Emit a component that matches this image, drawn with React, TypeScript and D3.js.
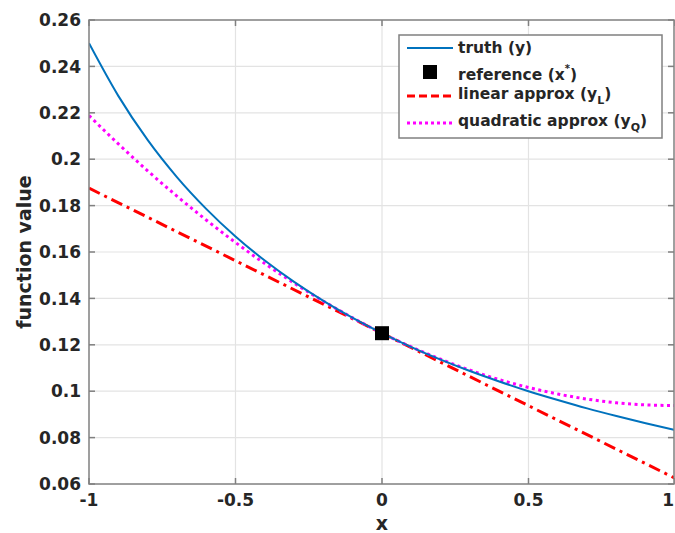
import { useMemo } from "react";
import { scaleLinear, line, curveMonotoneX } from "d3";

const WIDTH = 675;
const HEIGHT = 533;
const MARGIN = { top: 20, right: 0, bottom: 49, left: 89 };

const xSamples = [-1, -0.9, -0.8, -0.7, -0.6, -0.5, -0.4, -0.3, -0.2, -0.1, 0, 0.1, 0.2, 0.3, 0.4, 0.5, 0.6, 0.7, 0.8, 0.9, 1];
const truthValues = [
  0.25, 0.2273, 0.2083, 0.1923, 0.1786, 0.1667, 0.1563, 0.1471, 0.1389, 0.1316, 0.125,
  0.119, 0.1136, 0.1087, 0.1042, 0.1, 0.0962, 0.0926, 0.0893, 0.0862, 0.0833,
];
const quadraticValues = [
  0.2188, 0.2066, 0.195, 0.1841, 0.1738, 0.1641, 0.155, 0.1466, 0.1388, 0.1316, 0.125,
  0.1191, 0.1138, 0.1091, 0.105, 0.1016, 0.0988, 0.0966, 0.095, 0.0941, 0.0938,
];
const linearX = [-1, 1];
const linearValues = [0.1875, 0.0625];
const referencePoint = { x: 0, y: 0.125 };

const xTicks = [-1, -0.5, 0, 0.5, 1];
const xTickLabels = ["-1", "-0.5", "0", "0.5", "1"];
const yTicks = [0.06, 0.08, 0.1, 0.12, 0.14, 0.16, 0.18, 0.2, 0.22, 0.24, 0.26];
const yTickLabels = ["0.06", "0.08", "0.1", "0.12", "0.14", "0.16", "0.18", "0.2", "0.22", "0.24", "0.26"];

const FONT = "'DejaVu Sans', sans-serif";
const TEXT = "#262626";
const AXIS = "#808080";
const GRID = "#e3e3e3";
const BLUE = "#0072BD";
const RED = "#FF0000";
const MAGENTA = "#FF00FF";

export default function App() {
  const x = useMemo(() => scaleLinear().domain([-1, 1]).range([MARGIN.left, WIDTH - MARGIN.right]), []);
  const y = useMemo(() => scaleLinear().domain([0.06, 0.26]).range([HEIGHT - MARGIN.bottom, MARGIN.top]), []);

  const smooth = line<number>()
    .x((_, i) => x(xSamples[i]))
    .y((d) => y(d))
    .curve(curveMonotoneX);
  const straight = line<number>()
    .x((_, i) => x(linearX[i]))
    .y((d) => y(d));

  const left = MARGIN.left;
  const right = WIDTH - MARGIN.right - 1;
  const top = MARGIN.top;
  const bottom = HEIGHT - MARGIN.bottom;
  const tick = 6;

  const legend = { x: 399, y: 35, w: 263, h: 103 };
  const rows = [48, 72, 96, 123];
  const sampleX0 = 407;
  const sampleX1 = 453;
  const textX = 458;

  return (
    <svg width={WIDTH} height={HEIGHT} style={{ position: "absolute", left: 0, top: 0, background: "#fff" }} fontFamily={FONT}>
      <defs>
        <clipPath id="plot">
          <rect x={left} y={top} width={right - left} height={bottom - top} />
        </clipPath>
      </defs>

      {/* grid */}
      {xTicks.slice(1, -1).map((t) => (
        <line key={`gx${t}`} x1={x(t)} x2={x(t)} y1={top} y2={bottom} stroke={GRID} strokeWidth={1.2} />
      ))}
      {yTicks.slice(1, -1).map((t) => (
        <line key={`gy${t}`} x1={left} x2={right} y1={y(t)} y2={y(t)} stroke={GRID} strokeWidth={1.2} />
      ))}

      {/* series */}
      <g clipPath="url(#plot)" fill="none">
        <path d={straight(linearValues) ?? ""} stroke={RED} strokeWidth={3} strokeDasharray="12,5,3,5" />
        <path d={smooth(quadraticValues) ?? ""} stroke={MAGENTA} strokeWidth={3} strokeDasharray="3,3.5" />
        <path d={smooth(truthValues) ?? ""} stroke={BLUE} strokeWidth={2} />
      </g>
      <rect x={x(referencePoint.x) - 7} y={y(referencePoint.y) - 7} width={14} height={14} fill="#000" />

      {/* axes box */}
      <rect x={left} y={top} width={right - left} height={bottom - top} fill="none" stroke={AXIS} strokeWidth={1.5} />
      {xTicks.map((t) => (
        <g key={`tx${t}`} stroke={AXIS} strokeWidth={1.5}>
          <line x1={x(t)} x2={x(t)} y1={bottom} y2={bottom - tick} />
          <line x1={x(t)} x2={x(t)} y1={top} y2={top + tick} />
        </g>
      ))}
      {yTicks.map((t) => (
        <g key={`ty${t}`} stroke={AXIS} strokeWidth={1.5}>
          <line x1={left} x2={left + tick} y1={y(t)} y2={y(t)} />
          <line x1={right} x2={right - tick} y1={y(t)} y2={y(t)} />
        </g>
      ))}

      {/* tick labels */}
      {xTicks.map((t, i) => {
        const last = i === xTicks.length - 1;
        return (
          <text
            key={`lx${t}`}
            x={last ? WIDTH - 1 : x(t)}
            y={bottom + 22}
            textAnchor={last ? "end" : "middle"}
            fontSize={17}
            fontWeight="bold"
            fill={TEXT}
          >
            {xTickLabels[i]}
          </text>
        );
      })}
      {yTicks.map((t, i) => (
        <text key={`ly${t}`} x={left - 8} y={y(t)} dy="0.36em" textAnchor="end" fontSize={17} fontWeight="bold" fill={TEXT}>
          {yTickLabels[i]}
        </text>
      ))}

      {/* axis titles */}
      <text x={x(0)} y={HEIGHT - 3} textAnchor="middle" fontSize={19} fontWeight="bold" fill={TEXT}>
        x
      </text>
      <text
        transform={`translate(31, ${(top + bottom) / 2}) rotate(-90)`}
        textAnchor="middle"
        fontSize={19}
        fontWeight="bold"
        fill={TEXT}
      >
        function value
      </text>

      {/* legend */}
      <rect x={legend.x} y={legend.y} width={legend.w} height={legend.h} fill="#fff" stroke={AXIS} strokeWidth={1.5} />
      <line x1={sampleX0} x2={sampleX1} y1={rows[0]} y2={rows[0]} stroke={BLUE} strokeWidth={2} />
      <rect x={(sampleX0 + sampleX1) / 2 - 7} y={rows[1] - 7} width={14} height={14} fill="#000" />
      <line x1={sampleX0} x2={sampleX1} y1={rows[2]} y2={rows[2]} stroke={RED} strokeWidth={3} strokeDasharray="8,4" />
      <line x1={sampleX0} x2={sampleX1} y1={rows[3]} y2={rows[3]} stroke={MAGENTA} strokeWidth={3} strokeDasharray="3,3" />
      <g fontSize={15.5} fontWeight="bold" fill={TEXT}>
        <text x={textX} y={rows[0]} dy="0.35em">truth (y)</text>
        <text x={textX} y={rows[1]} dy="0.5em">
          reference (x<tspan dy={-8} fontSize={10}>*</tspan>
          <tspan dy={8}>)</tspan>
        </text>
        <text x={textX} y={rows[2]} dy="0.2em">
          linear approx (y<tspan dy={5} fontSize={11}>L</tspan>
          <tspan dy={-5}>)</tspan>
        </text>
        <text x={textX} y={rows[3]} dy="0.2em">
          quadratic approx (y<tspan dy={5} fontSize={11}>Q</tspan>
          <tspan dy={-5}>)</tspan>
        </text>
      </g>
    </svg>
  );
}
